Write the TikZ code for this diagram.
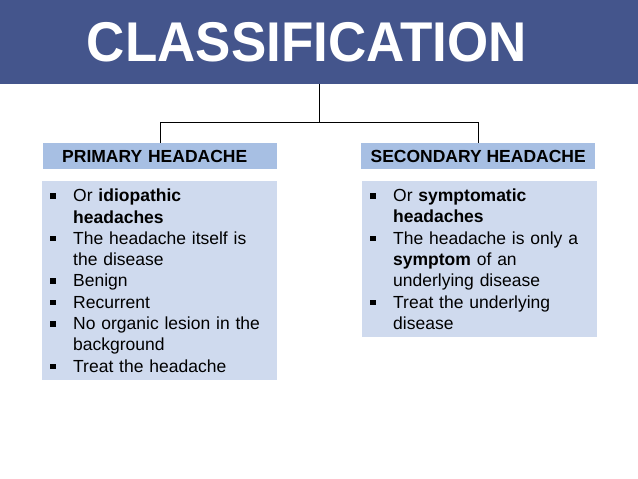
\documentclass[tikz,border=0pt]{standalone}
\usepackage{fontspec}
\setmainfont{Liberation Sans}
\usepackage{tikz}
\usetikzlibrary{positioning}
\definecolor{barblue}{HTML}{44558C}
\definecolor{headblue}{HTML}{A7BFE3}
\definecolor{bodyblue}{HTML}{CFDAEE}
\newcommand{\blt}{\makebox[23pt][l]{\rule[3pt]{5.5pt}{5.5pt}}}
\newcommand{\cnt}{\hspace*{23pt}}

\begin{document}
\begin{tikzpicture}[x=1pt, y=-1pt,
  head/.style={fill=headblue, anchor=north west, minimum width=234pt, minimum height=26pt, inner sep=0pt, font=\fontsize{17.5}{20}\selectfont\bfseries},
  body/.style={fill=bodyblue, anchor=north west, text width=219pt, inner xsep=8pt, inner ysep=0pt, align=left, font=\fontsize{17.5}{21.3}\selectfont}]
\useasboundingbox (0,0) rectangle (638,479);
\node[fill=barblue, anchor=north west, minimum width=638pt, minimum height=84pt, inner sep=0pt] (bar) at (0,0) {};
\node[text=white, font=\fontsize{56}{60}\selectfont\bfseries, inner sep=0pt] (title) at (307,42) {\scalebox{0.945}[1]{CLASSIFICATION}};
\node[head, text width=196pt, inner xsep=19pt, align=left] (prim) at (43,143) {PRIMARY HEADACHE};
\node[head] (sec) at (361,143) {SECONDARY HEADACHE};
\node[body, minimum height=199pt] (primbody) at (42,181) {\blt Or \textbf{idiopathic}\\ \cnt\textbf{headaches}\\ \blt The headache itself is\\ \cnt the disease\\ \blt Benign\\ \blt Recurrent\\ \blt No organic lesion in the\\ \cnt background\\ \blt Treat the headache};
\node[body, minimum height=156pt] (secbody) at (362,181) {\blt Or \textbf{symptomatic}\\ \cnt\textbf{headaches}\\ \blt The headache is only a\\ \cnt\textbf{symptom} of an\\ \cnt underlying disease\\ \blt Treat the underlying\\ \cnt disease};
\coordinate (fork) at ([yshift=-38pt]bar.south);
\draw[line width=0.8pt] (bar.south) -- (fork);
\draw[line width=0.8pt] (fork) -| (prim.north);
\draw[line width=0.8pt] (fork) -| (sec.north);
\end{tikzpicture}
\end{document}
